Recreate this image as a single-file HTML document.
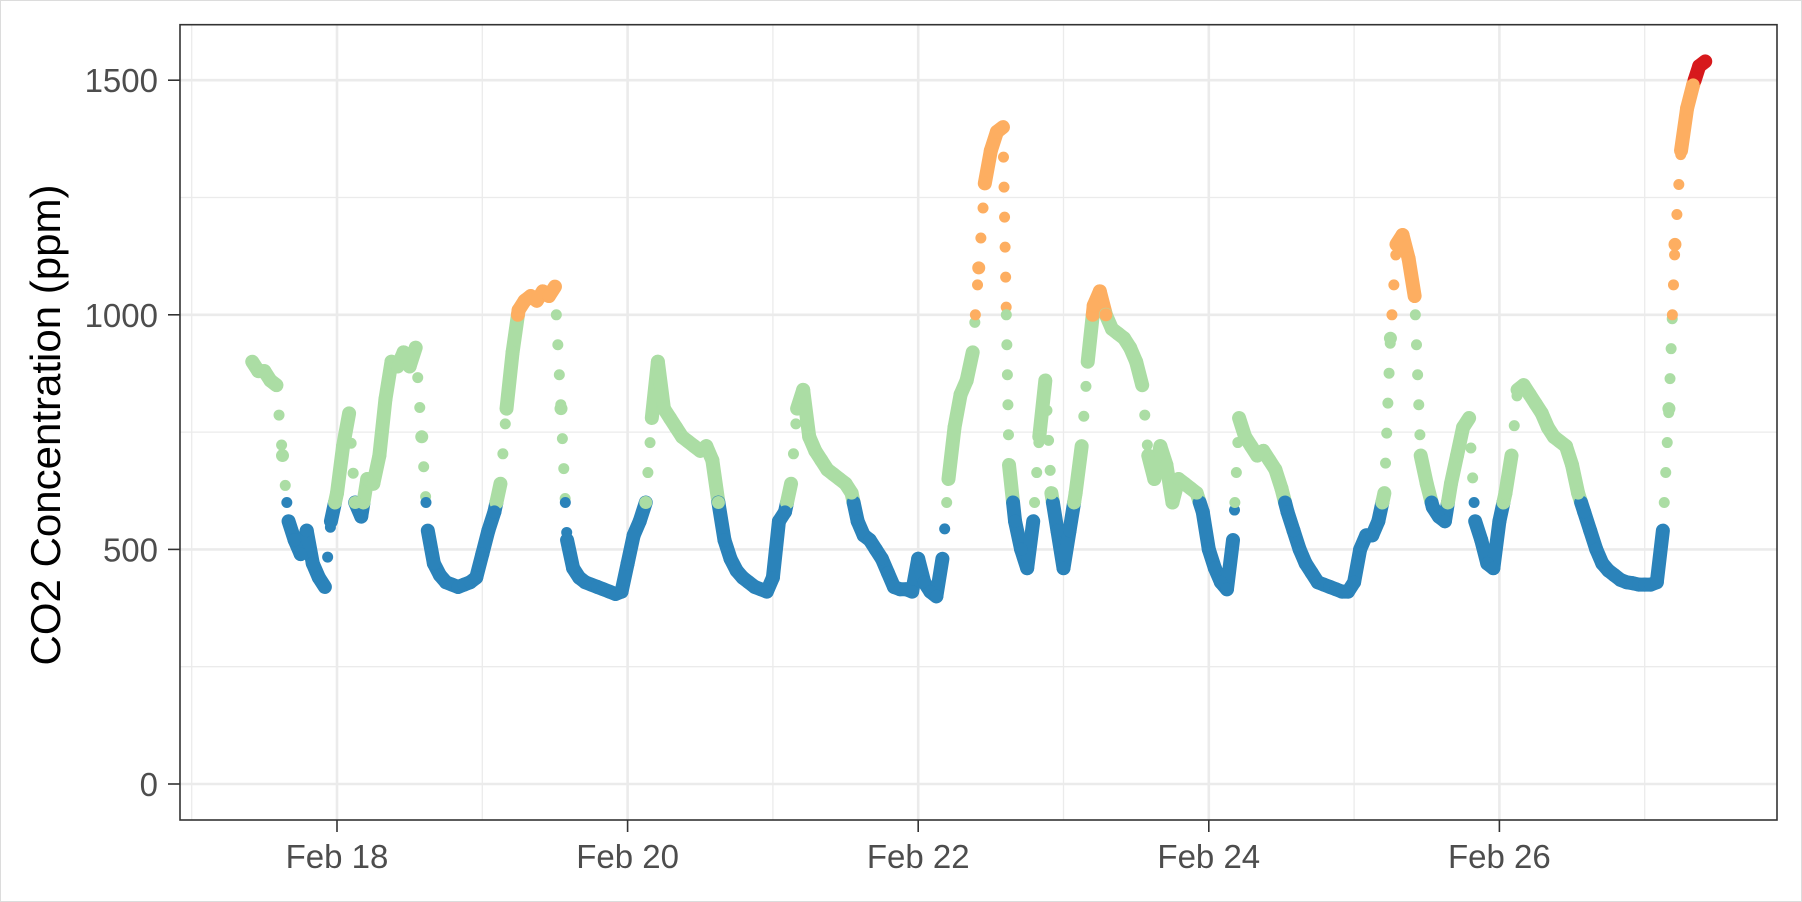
<!DOCTYPE html>
<html><head><meta charset="utf-8"><style>
html,body{margin:0;padding:0;background:#fff;}
svg{display:block;font-family:"Liberation Sans",Arial,sans-serif;}
</style></head><body>
<svg id="chart" width="1802" height="902" viewBox="0 0 1802 902" xmlns="http://www.w3.org/2000/svg">
<rect x="0.5" y="0.5" width="1801" height="901" fill="#fff" stroke="#dcdcdc" stroke-width="1"/>
<g id="grid"></g>
<g id="marks"></g>
<rect x="180" y="24.7" width="1597" height="795.3" fill="none" stroke="#333" stroke-width="1.6"/>
<g id="axes"></g>
<text transform="translate(60,425) rotate(-90)" text-anchor="middle" font-size="42" fill="#000">CO2 Concentration (ppm)</text>
</svg>
<script>
// hours since Feb 17 00:00 of first reading, hourly readings
const startHour = 10;
const co2Values = [900,880,880,860,850,700,560,520,490,540,470,440,420,560,620,720,790,600,570,650,640,700,820,900,890,920,890,930,740,540,470,445,430,425,420,425,430,440,490,540,580,640,800,920,1010,1030,1040,1030,1050,1040,1060,800,520,460,440,430,425,420,415,410,405,410,470,530,560,600,780,900,800,780,760,740,730,720,710,720,690,600,520,480,455,440,430,420,415,410,440,560,580,640,800,840,740,710,690,670,660,650,640,620,560,530,520,500,480,450,420,415,415,410,480,430,410,400,480,650,760,830,860,920,1100,1280,1350,1390,1400,680,560,500,460,560,740,860,620,540,460,540,620,720,900,1020,1050,1000,970,960,950,930,900,850,700,650,720,680,600,650,640,630,620,580,500,460,430,415,520,780,740,720,700,710,690,670,630,580,540,500,470,450,430,425,420,415,410,410,430,500,530,530,560,620,950,1150,1170,1120,1040,700,640,590,570,560,640,700,760,780,560,520,470,460,560,620,700,840,850,830,810,790,760,740,730,720,680,620,580,540,500,470,455,445,435,430,428,425,425,425,430,540,800,1150,1350,1440,1490,1530,1540];
const yTicks = [0,500,1000,1500];
const yMinor = [250,750,1250];
const xTickDays = [1,3,5,7,9];      // days after Feb 17
const xTickLabels = ["Feb 18","Feb 20","Feb 22","Feb 24","Feb 26"];
const xMinorDays = [0,2,4,6,8,10];
const levelBreaks = [600,1000,1500];
const levelColors = ["#2b83ba","#abdda4","#fdae61","#d7191c"];

const NS = "http://www.w3.org/2000/svg";
const PL = 180, PR = 1777, PT = 24.7, PB = 820;
function xScale(h){ return 337 + (h - 24) * (145.3/24); }
function yScale(v){ return 784 - v * 0.4692; }
function colorOf(v){ let i=0; while(i<levelBreaks.length && v>=levelBreaks[i]) i++; return levelColors[i]; }
function mk(tag, attrs, parent){ const e=document.createElementNS(NS,tag); for(const k in attrs) e.setAttribute(k,attrs[k]); parent.appendChild(e); return e; }

const grid = document.getElementById('grid');
const axes = document.getElementById('axes');
yMinor.forEach(v=>{
  const l = mk('line',{x1:PL,x2:PR,y1:yScale(v),y2:yScale(v),stroke:'#ebebeb','stroke-width':1.3},grid);
  
  
});
xMinorDays.forEach(d=>{
  const x=xScale(d*24);
  if(x<PL||x>PR) return;
  const l = mk('line',{x1:x,x2:x,y1:PT,y2:PB,stroke:'#ebebeb','stroke-width':1.3},grid);
  
  
});
yTicks.forEach(v=>{
  const y=yScale(v);
  const l = mk('line',{x1:PL,x2:PR,y1:y,y2:y,stroke:'#ebebeb','stroke-width':2.6},grid);
  
  
  const t = mk('line',{x1:168,x2:PL,y1:y,y2:y,stroke:'#333','stroke-width':1.6},axes);
  
  
  const tx = mk('text',{x:158,y:y+12,'text-anchor':'end','font-size':33,fill:'#4d4d4d'},axes);
  tx.textContent=v;
  
  
});
xTickDays.forEach((d,i)=>{
  const x=xScale(d*24);
  const l = mk('line',{x1:x,x2:x,y1:PT,y2:PB,stroke:'#ebebeb','stroke-width':2.6},grid);
  
  
  const t = mk('line',{x1:x,x2:x,y1:PB,y2:PB+12,stroke:'#333','stroke-width':1.6},axes);
  
  
  const tx = mk('text',{x:x,y:868,'text-anchor':'middle','font-size':33,fill:'#4d4d4d'},axes);
  tx.textContent=xTickLabels[i];
  
  
});
const marks = document.getElementById('marks');
// draw trace between consecutive readings, split at colour thresholds
for(let i=0;i<co2Values.length-1;i++){
  const a=co2Values[i], b=co2Values[i+1];
  const h0=startHour+i, h1=startHour+i+1;
  const cuts=[0];
  levelBreaks.forEach(br=>{ if((a-br)*(b-br)<0) cuts.push((br-a)/(b-a)); });
  cuts.push(1);
  cuts.sort((p,q)=>p-q);
  const big = Math.abs(b-a)>130;
  for(let k=0;k<cuts.length-1;k++){
    const t0=cuts[k], t1=cuts[k+1];
    const v0=a+(b-a)*t0, v1=a+(b-a)*t1;
    const attrs={x1:xScale(h0+(h1-h0)*t0),y1:yScale(v0),x2:xScale(h0+(h1-h0)*t1),y2:yScale(v1),
      stroke:colorOf((v0+v1)/2),'stroke-linecap':'round'};
    if(big){ attrs['stroke-width']=11; attrs['stroke-dasharray']='0 30'; }
    else { attrs['stroke-width']=14; }
    const s = mk('line',attrs,marks);
    
    
  }
}
co2Values.forEach((v,i)=>{
  const c = mk('circle',{cx:xScale(startHour+i),cy:yScale(v),r:6.5,fill:colorOf(v)},marks);
  
  
});
</script>
</body></html>
